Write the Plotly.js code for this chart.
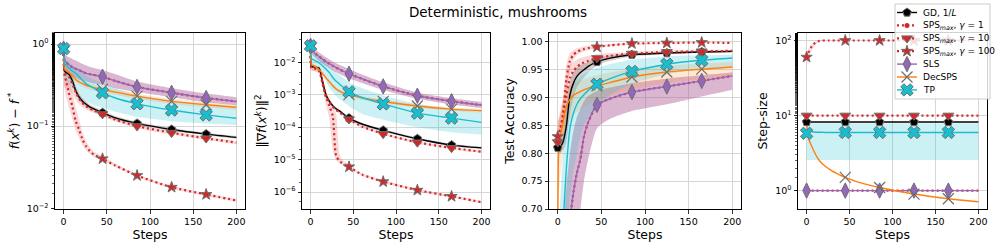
<!DOCTYPE html>
<html><head><meta charset="utf-8">
<script src="https://cdn.plot.ly/plotly-3.0.1.min.js"></script>
<style>html,body{margin:0;padding:0;background:#fff}#chart{width:997px;height:249px}</style>
</head><body><div id="chart"></div>
<script>
// ---------------- DATA ----------------
const STEPS = [0, 1, 3, 6, 10, 14, 18, 22, 26, 30, 35, 45, 60, 85, 125, 165, 200];
const X_TICKS = [0, 50, 100, 150, 200];

// marker positions (steps) per method
const MARKS_GD = [0, 45, 85, 125, 165];
const MARKS_SPS1 = [45, 125];
const MARKS_SPS10 = [0, 45, 85, 125, 165];
const MARKS_SPS100 = [0, 45, 85, 125, 165];
const MARKS_SLS = [0, 45, 85, 125, 165];
const MARKS_DEC = [45, 85, 125, 165];
const MARKS_TP = [0, 45, 85, 125, 165];

// Panel 1: f(x^k) - f*
const LOSS_GD    = [0.88, 0.47, 0.45, 0.43, 0.36, 0.27, 0.225, 0.2, 0.185, 0.172, 0.162, 0.146, 0.126, 0.108, 0.091, 0.080, 0.073];
const LOSS_GD_LO = [0.86, 0.43, 0.41, 0.39, 0.32, 0.245, 0.205, 0.183, 0.17, 0.16, 0.151, 0.137, 0.119, 0.103, 0.087, 0.077, 0.070];
const LOSS_GD_HI = [0.90, 0.51, 0.49, 0.47, 0.40, 0.30, 0.245, 0.217, 0.2, 0.185, 0.173, 0.155, 0.133, 0.113, 0.095, 0.083, 0.076];
const LOSS_SPS1    = [0.88, 0.64, 0.60, 0.56, 0.52, 0.50, 0.48, 0.46, 0.44, 0.43, 0.42, 0.40, 0.355, 0.30, 0.255, 0.22, 0.20];
const LOSS_SPS1_LO = [0.85, 0.50, 0.47, 0.44, 0.41, 0.39, 0.37, 0.36, 0.35, 0.34, 0.33, 0.32, 0.29, 0.26, 0.225, 0.195, 0.18];
const LOSS_SPS1_HI = [0.92, 0.75, 0.72, 0.69, 0.66, 0.63, 0.60, 0.57, 0.55, 0.53, 0.51, 0.48, 0.43, 0.35, 0.29, 0.25, 0.225];
const LOSS_SPS10    = [0.88, 0.44, 0.42, 0.40, 0.33, 0.26, 0.215, 0.19, 0.175, 0.165, 0.155, 0.14, 0.12, 0.1, 0.083, 0.071, 0.063];
const LOSS_SPS10_LO = [0.85, 0.30, 0.29, 0.28, 0.25, 0.21, 0.185, 0.17, 0.16, 0.152, 0.145, 0.132, 0.114, 0.095, 0.079, 0.068, 0.060];
const LOSS_SPS10_HI = [0.90, 0.47, 0.46, 0.45, 0.40, 0.31, 0.25, 0.215, 0.195, 0.18, 0.167, 0.149, 0.127, 0.105, 0.087, 0.074, 0.066];
const LOSS_SPS100    = [0.88, 0.42, 0.35, 0.255, 0.175, 0.115, 0.09, 0.068, 0.057, 0.050, 0.045, 0.040, 0.033, 0.025, 0.018, 0.0147, 0.0124];
const LOSS_SPS100_LO = [0.85, 0.28, 0.23, 0.17, 0.125, 0.088, 0.072, 0.058, 0.051, 0.046, 0.042, 0.038, 0.032, 0.024, 0.0173, 0.0142, 0.012];
const LOSS_SPS100_HI = [0.90, 0.47, 0.43, 0.35, 0.26, 0.17, 0.12, 0.085, 0.066, 0.056, 0.049, 0.043, 0.035, 0.026, 0.0187, 0.0152, 0.0129];
const LOSS_SLS    = [0.88, 0.64, 0.60, 0.56, 0.52, 0.50, 0.48, 0.46, 0.44, 0.43, 0.42, 0.40, 0.355, 0.30, 0.255, 0.22, 0.20];
const LOSS_SLS_LO = [0.85, 0.50, 0.47, 0.44, 0.41, 0.39, 0.37, 0.36, 0.35, 0.34, 0.33, 0.32, 0.29, 0.26, 0.225, 0.195, 0.18];
const LOSS_SLS_HI = [0.92, 0.75, 0.72, 0.69, 0.66, 0.63, 0.60, 0.57, 0.55, 0.53, 0.51, 0.48, 0.43, 0.35, 0.29, 0.25, 0.225];
const LOSS_DEC    = [0.88, 0.50, 0.48, 0.45, 0.41, 0.37, 0.345, 0.33, 0.315, 0.305, 0.295, 0.28, 0.26, 0.232, 0.20, 0.182, 0.17];
const LOSS_DEC_LO = [0.86, 0.46, 0.44, 0.41, 0.37, 0.34, 0.32, 0.305, 0.29, 0.28, 0.27, 0.257, 0.24, 0.215, 0.186, 0.17, 0.158];
const LOSS_DEC_HI = [0.90, 0.55, 0.53, 0.50, 0.45, 0.41, 0.38, 0.36, 0.345, 0.333, 0.322, 0.305, 0.283, 0.25, 0.215, 0.195, 0.183];
const LOSS_TP    = [0.88, 0.58, 0.55, 0.51, 0.47, 0.44, 0.40, 0.36, 0.33, 0.31, 0.29, 0.255, 0.22, 0.187, 0.157, 0.137, 0.125];
const LOSS_TP_LO = [0.85, 0.40, 0.37, 0.33, 0.29, 0.26, 0.23, 0.21, 0.20, 0.19, 0.18, 0.168, 0.15, 0.13, 0.115, 0.108, 0.103];
const LOSS_TP_HI = [0.92, 0.68, 0.64, 0.60, 0.56, 0.52, 0.48, 0.44, 0.41, 0.39, 0.37, 0.33, 0.29, 0.24, 0.205, 0.185, 0.172];
const LOSS_TICKS = [1, 0.1, 0.01];
const LOSS_TICKTEXT = ['10<sup>0</sup>', '10<sup>\u22121</sup>', '10<sup>\u22122</sup>'];

// Panel 2: ||grad f(x^k)||^2
const GRAD_GD    = [0.032, 0.0075, 0.0072, 0.007, 0.0066, 0.0026, 0.001, 0.00063, 0.00046, 0.00037, 0.0003, 0.00019, 0.000125, 0.00008, 0.000044, 0.000028, 0.000023];
const GRAD_GD_LO = [0.03, 0.0069, 0.0066, 0.0064, 0.0058, 0.0021, 0.00085, 0.00055, 0.00041, 0.00033, 0.00027, 0.000172, 0.000113, 0.000072, 0.00004, 0.0000255, 0.000021];
const GRAD_GD_HI = [0.034, 0.0082, 0.0079, 0.0077, 0.0074, 0.0032, 0.0012, 0.00072, 0.00052, 0.00041, 0.00033, 0.00021, 0.000138, 0.000088, 0.000048, 0.000031, 0.0000252];
const GRAD_SPS1    = [0.032, 0.024, 0.021, 0.018, 0.015, 0.0125, 0.0105, 0.009, 0.0078, 0.0068, 0.0058, 0.0044, 0.0031, 0.0018, 0.00093, 0.00063, 0.00048];
const GRAD_SPS1_LO = [0.028, 0.019, 0.016, 0.0135, 0.011, 0.009, 0.0076, 0.0065, 0.0056, 0.0049, 0.0042, 0.0032, 0.0023, 0.0014, 0.00075, 0.0005, 0.00039];
const GRAD_SPS1_HI = [0.036, 0.03, 0.027, 0.024, 0.02, 0.0168, 0.0142, 0.0122, 0.0106, 0.0093, 0.008, 0.0061, 0.0042, 0.0024, 0.00115, 0.00078, 0.0006];
const GRAD_SPS10    = [0.032, 0.0068, 0.0066, 0.0064, 0.006, 0.0024, 0.00095, 0.0006, 0.00043, 0.00034, 0.00027, 0.000175, 0.000105, 0.000062, 0.000034, 0.000023, 0.0000175];
const GRAD_SPS10_LO = [0.03, 0.0055, 0.0053, 0.0052, 0.0048, 0.0018, 0.0008, 0.00053, 0.00039, 0.00031, 0.00025, 0.00016, 0.000096, 0.000057, 0.000031, 0.000021, 0.000016];
const GRAD_SPS10_HI = [0.034, 0.0078, 0.0076, 0.0074, 0.007, 0.0032, 0.0012, 0.0007, 0.00048, 0.00037, 0.0003, 0.00019, 0.000115, 0.000068, 0.000037, 0.000025, 0.000019];
const GRAD_SPS100    = [0.032, 0.0068, 0.0066, 0.0063, 0.0055, 0.0022, 0.00085, 0.00045, 0.00022, 0.000013, 0.0000085, 0.000006, 0.0000035, 0.0000021, 0.00000115, 0.00000074, 0.00000049];
const GRAD_SPS100_LO = [0.03, 0.0058, 0.0056, 0.0053, 0.0045, 0.0015, 0.0005, 0.00018, 0.00002, 0.0000095, 0.0000075, 0.0000055, 0.0000032, 0.0000019, 0.00000105, 0.00000068, 0.00000045];
const GRAD_SPS100_HI = [0.034, 0.0078, 0.0076, 0.0073, 0.0065, 0.0033, 0.0013, 0.00072, 0.00045, 0.00025, 0.000012, 0.0000066, 0.0000038, 0.0000023, 0.00000125, 0.0000008, 0.00000053];
const GRAD_SLS    = [0.032, 0.024, 0.021, 0.018, 0.015, 0.0125, 0.0105, 0.009, 0.0078, 0.0068, 0.0058, 0.0044, 0.0031, 0.0018, 0.00093, 0.00063, 0.00048];
const GRAD_SLS_LO = [0.028, 0.019, 0.016, 0.0135, 0.011, 0.009, 0.0076, 0.0065, 0.0056, 0.0049, 0.0042, 0.0032, 0.0023, 0.0014, 0.00075, 0.0005, 0.00039];
const GRAD_SLS_HI = [0.036, 0.03, 0.027, 0.024, 0.02, 0.0168, 0.0142, 0.0122, 0.0106, 0.0093, 0.008, 0.0061, 0.0042, 0.0024, 0.00115, 0.00078, 0.0006];
const GRAD_DEC    = [0.032, 0.0085, 0.008, 0.0072, 0.006, 0.0045, 0.0033, 0.0025, 0.0019, 0.0015, 0.00125, 0.001, 0.0008, 0.00062, 0.00045, 0.00036, 0.00032];
const GRAD_DEC_LO = [0.03, 0.0072, 0.0068, 0.0061, 0.0051, 0.0038, 0.0028, 0.0021, 0.0016, 0.0013, 0.00108, 0.00087, 0.0007, 0.00055, 0.0004, 0.00032, 0.00028];
const GRAD_DEC_HI = [0.034, 0.0098, 0.0092, 0.0083, 0.0069, 0.0052, 0.0038, 0.0029, 0.0022, 0.0017, 0.00143, 0.00114, 0.00091, 0.0007, 0.00051, 0.00041, 0.00036];
const GRAD_TP    = [0.032, 0.013, 0.012, 0.011, 0.0095, 0.0078, 0.0062, 0.0048, 0.0034, 0.0026, 0.002, 0.00122, 0.00082, 0.00052, 0.00027, 0.00019, 0.00014];
const GRAD_TP_LO = [0.028, 0.0075, 0.007, 0.0064, 0.0055, 0.0042, 0.0028, 0.0016, 0.0012, 0.0009, 0.0007, 0.00045, 0.00026, 0.00017, 0.0001, 0.00007, 0.000059];
const GRAD_TP_HI = [0.036, 0.02, 0.019, 0.017, 0.015, 0.012, 0.0095, 0.0075, 0.006, 0.0048, 0.0038, 0.0024, 0.0016, 0.00095, 0.00052, 0.00037, 0.0003];
const GRAD_TICKS = [1e-2, 1e-3, 1e-4, 1e-5, 1e-6];
const GRAD_TICKTEXT = ['10<sup>\u22122</sup>', '10<sup>\u22123</sup>', '10<sup>\u22124</sup>', '10<sup>\u22125</sup>', '10<sup>\u22126</sup>'];

// Panel 3: test accuracy
const ACC_GD    = [0.81, 0.81, 0.812, 0.82, 0.85, 0.905, 0.926, 0.938, 0.945, 0.95, 0.956, 0.964, 0.971, 0.977, 0.98, 0.982, 0.983];
const ACC_GD_LO = [0.80, 0.80, 0.80, 0.805, 0.82, 0.87, 0.9, 0.918, 0.928, 0.936, 0.945, 0.957, 0.966, 0.974, 0.978, 0.98, 0.981];
const ACC_GD_HI = [0.82, 0.82, 0.825, 0.84, 0.89, 0.93, 0.946, 0.954, 0.958, 0.961, 0.965, 0.971, 0.976, 0.98, 0.982, 0.984, 0.985];
const ACC_SPS1    = [0.5, 0.5, 0.52, 0.56, 0.62, 0.68, 0.73, 0.765, 0.79, 0.83, 0.856, 0.887, 0.898, 0.91, 0.92, 0.93, 0.939];
const ACC_SPS1_LO = [0.4, 0.4, 0.42, 0.45, 0.5, 0.55, 0.6, 0.65, 0.7, 0.75, 0.79, 0.845, 0.862, 0.876, 0.888, 0.902, 0.914];
const ACC_SPS1_HI = [0.6, 0.6, 0.63, 0.67, 0.74, 0.8, 0.84, 0.865, 0.88, 0.893, 0.903, 0.912, 0.918, 0.926, 0.934, 0.94, 0.945];
const ACC_SPS10    = [0.82, 0.83, 0.84, 0.865, 0.905, 0.935, 0.948, 0.955, 0.96, 0.963, 0.966, 0.971, 0.975, 0.979, 0.982, 0.983, 0.984];
const ACC_SPS10_LO = [0.80, 0.80, 0.81, 0.82, 0.86, 0.90, 0.925, 0.94, 0.948, 0.953, 0.957, 0.965, 0.97, 0.976, 0.979, 0.981, 0.981];
const ACC_SPS10_HI = [0.84, 0.86, 0.87, 0.89, 0.935, 0.958, 0.965, 0.968, 0.971, 0.973, 0.975, 0.978, 0.98, 0.982, 0.985, 0.986, 0.986];
const ACC_SPS100    = [0.83, 0.835, 0.845, 0.87, 0.935, 0.966, 0.977, 0.982, 0.985, 0.987, 0.989, 0.991, 0.994, 0.997, 0.998, 0.999, 0.998];
const ACC_SPS100_LO = [0.80, 0.81, 0.82, 0.84, 0.90, 0.95, 0.968, 0.976, 0.98, 0.983, 0.985, 0.988, 0.992, 0.995, 0.997, 0.998, 0.997];
const ACC_SPS100_HI = [0.86, 0.86, 0.87, 0.90, 0.96, 0.98, 0.985, 0.988, 0.99, 0.992, 0.993, 0.994, 0.996, 0.998, 0.999, 1.0, 0.999];
const ACC_SLS    = [0.5, 0.5, 0.52, 0.56, 0.62, 0.68, 0.73, 0.765, 0.79, 0.83, 0.856, 0.887, 0.898, 0.91, 0.92, 0.93, 0.939];
const ACC_SLS_LO = [0.4, 0.4, 0.42, 0.45, 0.5, 0.55, 0.6, 0.65, 0.7, 0.75, 0.79, 0.845, 0.862, 0.876, 0.888, 0.902, 0.914];
const ACC_SLS_HI = [0.6, 0.6, 0.63, 0.67, 0.74, 0.8, 0.84, 0.865, 0.88, 0.893, 0.903, 0.912, 0.918, 0.926, 0.934, 0.94, 0.945];
const ACC_DEC    = [0.55, 0.8, 0.83, 0.855, 0.885, 0.897, 0.904, 0.908, 0.911, 0.914, 0.917, 0.921, 0.927, 0.937, 0.946, 0.951, 0.955];
const ACC_DEC_LO = [0.45, 0.72, 0.76, 0.8, 0.84, 0.86, 0.868, 0.874, 0.879, 0.883, 0.888, 0.895, 0.903, 0.915, 0.926, 0.933, 0.938];
const ACC_DEC_HI = [0.65, 0.86, 0.88, 0.895, 0.912, 0.92, 0.925, 0.928, 0.931, 0.933, 0.936, 0.94, 0.945, 0.952, 0.958, 0.961, 0.964];
const ACC_TP    = [0.5, 0.55, 0.6, 0.67, 0.775, 0.845, 0.872, 0.888, 0.898, 0.905, 0.913, 0.924, 0.934, 0.947, 0.96, 0.967, 0.971];
const ACC_TP_LO = [0.4, 0.45, 0.5, 0.56, 0.65, 0.72, 0.77, 0.8, 0.83, 0.85, 0.865, 0.885, 0.905, 0.925, 0.942, 0.952, 0.956];
const ACC_TP_HI = [0.6, 0.66, 0.72, 0.8, 0.88, 0.91, 0.925, 0.933, 0.938, 0.942, 0.946, 0.953, 0.96, 0.968, 0.974, 0.976, 0.977];
const ACC_TICKS = [0.70, 0.75, 0.80, 0.85, 0.90, 0.95, 1.00];

// Panel 4: step-size
const STEP_GD = [8.2, 8.2, 8.2, 8.2, 8.2, 8.2, 8.2, 8.2, 8.2, 8.2, 8.2, 8.2, 8.2, 8.2, 8.2, 8.2, 8.2];
const STEP_SPS1 = [1, 1, 1, 1, 1, 1, 1, 1, 1, 1, 1, 1, 1, 1, 1, 1, 1];
const STEP_SPS10 = [10, 10, 10, 10, 10, 10, 10, 10, 10, 10, 10, 10, 10, 10, 10, 10, 10];
const STEP_SPS100    = [60, 66, 72, 84, 93, 98, 100, 100, 100, 100, 100, 100, 100, 100, 100, 100, 100];
const STEP_SPS100_LO = [34, 55, 63, 75, 87, 95, 99, 100, 100, 100, 100, 100, 100, 100, 100, 100, 100];
const STEP_SPS100_HI = [68, 74, 80, 90, 97, 100, 100, 100, 100, 100, 100, 100, 100, 100, 100, 100, 100];
const STEP_SLS = [1, 1, 1, 1, 1, 1, 1, 1, 1, 1, 1, 1, 1, 1, 1, 1, 1];
const STEP_DEC = [10, 5.6, 4.7, 3.9, 3.1, 2.6, 2.3, 2.1, 1.95, 1.82, 1.7, 1.5, 1.3, 1.1, 0.9, 0.78, 0.71];
const STEP_TP    = [5.8, 6.3, 6.2, 6.1, 6.0, 6.0, 6.0, 5.95, 5.95, 5.95, 5.95, 5.95, 5.95, 5.95, 5.95, 5.95, 5.95];
const STEP_TP_LO = [2.55, 2.55, 2.55, 2.55, 2.55, 2.55, 2.55, 2.55, 2.55, 2.55, 2.55, 2.55, 2.55, 2.55, 2.55, 2.55, 2.55];
const STEP_TP_HI = [7.9, 7.9, 7.9, 7.9, 7.9, 7.9, 7.9, 7.9, 7.9, 7.9, 7.9, 7.9, 7.9, 7.9, 7.9, 7.9, 7.9];
const STEP_TICKS = [1, 10, 100];
const STEP_TICKTEXT = ['10<sup>0</sup>', '10<sup>1</sup>', '10<sup>2</sup>'];

// ---------------- STYLE ----------------
const EDGE = '#6e6e6e';
const METHODS = [
  {key:'GD', name:'GD, 1/<i>L</i>', color:'#000000', dash:'solid', width:1.4, band:'rgba(0,0,0,0.17)',
   marker:{symbol:'pentagon', size:9, color:'#000000', line:{color:EDGE, width:1}}, marks:MARKS_GD},
  {key:'SPS1', name:'SPS<sub><i>max</i></sub>, <i>\u03b3</i> = 1', color:'#d62728', dash:'2px,3px', width:2.2, band:'rgba(214,39,40,0.18)',
   marker:{symbol:'circle', size:5, color:'#d62728', line:{color:'#d62728', width:0}}, marks:MARKS_SPS1},
  {key:'SPS10', name:'SPS<sub><i>max</i></sub>, <i>\u03b3</i> = 10', color:'#d62728', dash:'2px,3px', width:2.2, band:'rgba(214,39,40,0.18)',
   marker:{symbol:'triangle-down', size:9.5, color:'#d62728', line:{color:EDGE, width:1}}, marks:MARKS_SPS10},
  {key:'SPS100', name:'SPS<sub><i>max</i></sub>, <i>\u03b3</i> = 100', color:'#d62728', dash:'2px,3px', width:2.2, band:'rgba(214,39,40,0.18)',
   marker:{symbol:'star', size:8.5, color:'#d62728', line:{color:EDGE, width:1}}, marks:MARKS_SPS100},
  {key:'SLS', name:'SLS', color:'#9467bd', dash:'solid', width:1.4, band:'rgba(148,103,189,0.3)',
   marker:{symbol:'diamond-tall', size:11, color:'#9467bd', line:{color:EDGE, width:1}}, marks:MARKS_SLS},
  {key:'DEC', name:'DecSPS', color:'#ff7f0e', dash:'solid', width:1.4, band:'rgba(255,127,14,0.18)',
   marker:{symbol:'x-thin-open', size:11, color:EDGE, line:{color:EDGE, width:1.2}}, marks:MARKS_DEC},
  {key:'TP', name:'TP', color:'#17becf', dash:'solid', width:1.4, band:'rgba(23,190,207,0.22)',
   marker:{symbol:'x', size:11, color:'#17becf', line:{color:EDGE, width:1}}, marks:MARKS_TP}
];

const PANELS = [
  {xa:'x', ya:'y', data:{
    GD:[LOSS_GD, LOSS_GD_LO, LOSS_GD_HI], SPS1:[LOSS_SPS1, LOSS_SPS1_LO, LOSS_SPS1_HI],
    SPS10:[LOSS_SPS10, LOSS_SPS10_LO, LOSS_SPS10_HI], SPS100:[LOSS_SPS100, LOSS_SPS100_LO, LOSS_SPS100_HI],
    SLS:[LOSS_SLS, LOSS_SLS_LO, LOSS_SLS_HI], DEC:[LOSS_DEC, LOSS_DEC_LO, LOSS_DEC_HI], TP:[LOSS_TP, LOSS_TP_LO, LOSS_TP_HI]}},
  {xa:'x2', ya:'y2', data:{
    GD:[GRAD_GD, GRAD_GD_LO, GRAD_GD_HI], SPS1:[GRAD_SPS1, GRAD_SPS1_LO, GRAD_SPS1_HI],
    SPS10:[GRAD_SPS10, GRAD_SPS10_LO, GRAD_SPS10_HI], SPS100:[GRAD_SPS100, GRAD_SPS100_LO, GRAD_SPS100_HI],
    SLS:[GRAD_SLS, GRAD_SLS_LO, GRAD_SLS_HI], DEC:[GRAD_DEC, GRAD_DEC_LO, GRAD_DEC_HI], TP:[GRAD_TP, GRAD_TP_LO, GRAD_TP_HI]}},
  {xa:'x3', ya:'y3', data:{
    GD:[ACC_GD, ACC_GD_LO, ACC_GD_HI], SPS1:[ACC_SPS1, ACC_SPS1_LO, ACC_SPS1_HI],
    SPS10:[ACC_SPS10, ACC_SPS10_LO, ACC_SPS10_HI], SPS100:[ACC_SPS100, ACC_SPS100_LO, ACC_SPS100_HI],
    SLS:[ACC_SLS, ACC_SLS_LO, ACC_SLS_HI], DEC:[ACC_DEC, ACC_DEC_LO, ACC_DEC_HI], TP:[ACC_TP, ACC_TP_LO, ACC_TP_HI]}},
  {xa:'x4', ya:'y4', data:{
    GD:[STEP_GD], SPS1:[STEP_SPS1], SPS10:[STEP_SPS10], SPS100:[STEP_SPS100, STEP_SPS100_LO, STEP_SPS100_HI],
    SLS:[STEP_SLS], DEC:[STEP_DEC], TP:[STEP_TP, STEP_TP_LO, STEP_TP_HI]}}
];

// ---------------- TRACES ----------------
const traces = [];
const SHAPE = {shape:'spline', smoothing:0.6};
PANELS.forEach(p => {
  METHODS.forEach(m => {
    const d = p.data[m.key];
    if (d.length === 3) {
      traces.push({x:STEPS, y:d[1], xaxis:p.xa, yaxis:p.ya, mode:'lines', line:Object.assign({width:0}, SHAPE),
        showlegend:false, hoverinfo:'skip'});
      traces.push({x:STEPS, y:d[2], xaxis:p.xa, yaxis:p.ya, mode:'lines', line:Object.assign({width:0}, SHAPE),
        fill:'tonexty', fillcolor:m.band, showlegend:false, hoverinfo:'skip'});
    }
  });
  METHODS.forEach(m => {
    const d = p.data[m.key];
    traces.push({x:STEPS, y:d[0], xaxis:p.xa, yaxis:p.ya, mode:'lines',
      line:Object.assign({color:m.color, width:m.width, dash:m.dash}, SHAPE), showlegend:false});
  });
  METHODS.forEach(m => {
    const d = p.data[m.key];
    traces.push({x:m.marks, y:m.marks.map(s => d[0][STEPS.indexOf(s)]), xaxis:p.xa, yaxis:p.ya,
      mode:'markers', marker:m.marker, showlegend:false});
  });
});

// ---------------- LEGEND (compact, drawn in a pixel-unit overlay axis) ----------------
const W = 997, H = 249;
const LEG = {left:895, right:990, top:4, bottom:99, y0:12.5, dy:12.9, x0:897, x1:917, tx:921};
const annotations = [];
traces.push({x:[LEG.left, LEG.right, LEG.right, LEG.left, LEG.left], y:[LEG.top, LEG.top, LEG.bottom, LEG.bottom, LEG.top],
  xaxis:'x5', yaxis:'y5', mode:'lines', fill:'toself', fillcolor:'rgba(255,255,255,0.82)',
  line:{color:'#cccccc', width:1}, showlegend:false, hoverinfo:'skip'});
METHODS.forEach((m, i) => {
  const yy = LEG.y0 + i * LEG.dy;
  traces.push({x:[LEG.x0, LEG.x1], y:[yy, yy], xaxis:'x5', yaxis:'y5', mode:'lines',
    line:{color:m.color, width:m.width, dash:m.dash}, showlegend:false, hoverinfo:'skip'});
  traces.push({x:[(LEG.x0 + LEG.x1) / 2], y:[yy], xaxis:'x5', yaxis:'y5', mode:'markers',
    marker:m.marker, showlegend:false, hoverinfo:'skip'});
  annotations.push({xref:'x5', yref:'y5', x:LEG.tx, y:yy, text:m.name, xanchor:'left', yanchor:'middle',
    showarrow:false, font:{size:9, color:'#000'}});
});

// ---------------- LAYOUT ----------------
const XPIX = [[55,245],[302,490],[549,741],[798,987]];
const YDOM = [1 - 209/H, 1 - 33/H];
const FONT = 'DejaVu Sans, sans-serif';
function xax(i) {
  return {domain:[XPIX[i][0]/W, XPIX[i][1]/W], anchor:'y' + (i ? i+1 : ''), range:[-10, 210],
    tickmode:'array', tickvals:X_TICKS, ticks:'outside', ticklen:3.5, tickwidth:0.8, tickcolor:'#000',
    showline:true, mirror:true, linecolor:'#000', linewidth:1, showgrid:true, gridcolor:'#d6d6d6', gridwidth:1,
    zeroline:false, tickfont:{size:9.5, color:'#000'},
    title:{text:'Steps', font:{size:12.5, color:'#000'}, standoff:2}};
}
function yax(i, o) {
  return Object.assign({domain:YDOM, anchor:'x' + (i ? i+1 : ''), ticks:'outside', ticklen:3.5, tickwidth:0.8,
    tickcolor:'#000', showline:true, mirror:true, linecolor:'#000', linewidth:1, showgrid:true,
    gridcolor:'#d6d6d6', gridwidth:1, zeroline:false, tickfont:{size:9.5, color:'#000'}}, o);
}
const MINOR = {ticks:'outside', ticklen:2, tickwidth:0.6, tickcolor:'#000', showgrid:false};
const layout = {
  width:W, height:H, margin:{l:0, r:0, t:0, b:0}, paper_bgcolor:'#fff', plot_bgcolor:'rgba(0,0,0,0)',
  font:{family:FONT, color:'#000'},
  title:{text:'Deterministic, mushrooms', x:498/W, xref:'container', xanchor:'center',
    y:1 - 12/H, yref:'container', yanchor:'middle', font:{size:13.5, color:'#000'}},
  showlegend:false,
  annotations:annotations,
  xaxis:xax(0), xaxis2:xax(1), xaxis3:xax(2), xaxis4:xax(3),
  yaxis:yax(0, {type:'log', range:[-2.01, 0.135], tickmode:'array', tickvals:LOSS_TICKS, ticktext:LOSS_TICKTEXT, minor:MINOR,
    title:{text:'<i>f</i>(<i>x</i><sup><i>k</i></sup>) \u2212 <i>f</i><sup> *</sup>', font:{size:12.5}, standoff:4}}),
  yaxis2:yax(1, {type:'log', range:[-6.52, -1.1], tickmode:'array', tickvals:GRAD_TICKS, ticktext:GRAD_TICKTEXT, minor:MINOR,
    title:{text:'\u2016\u2207<i>f</i>(<i>x</i><sup><i>k</i></sup>)\u2016<sup>2</sup>', font:{size:12.5}, standoff:4}}),
  yaxis3:yax(2, {range:[0.70, 1.016], tickmode:'array', tickvals:ACC_TICKS, tickformat:'.2f',
    title:{text:'Test Accuracy', font:{size:12.5}, standoff:4}}),
  yaxis4:yax(3, {type:'log', range:[-0.245, 2.10], tickmode:'array', tickvals:STEP_TICKS, ticktext:STEP_TICKTEXT, minor:MINOR,
    title:{text:'Step-size', font:{size:12.5}, standoff:4}}),
  xaxis5:{domain:[(LEG.left - 3)/W, (LEG.right + 3)/W], range:[LEG.left - 3, LEG.right + 3], anchor:'y5', visible:false,
    showgrid:false, zeroline:false, fixedrange:true},
  yaxis5:{domain:[1 - (LEG.bottom + 3)/H, 1 - (LEG.top - 3)/H], range:[LEG.bottom + 3, LEG.top - 3], anchor:'x5', visible:false,
    showgrid:false, zeroline:false, fixedrange:true}
};
Plotly.newPlot('chart', traces, layout, {staticPlot:true, displayModeBar:false});
</script>
</body></html>
